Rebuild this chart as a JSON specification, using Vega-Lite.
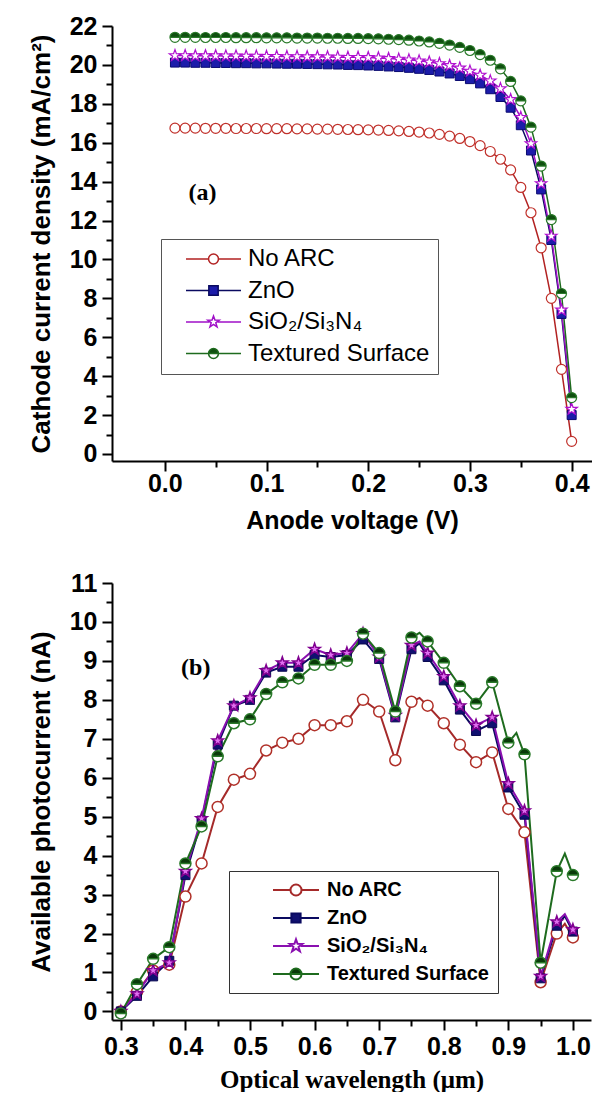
{
"$schema": "https://vega.github.io/schema/vega-lite/v6.json",
"background": "white",
"padding": {"left": 28, "top": 14, "right": 0, "bottom": 0},
"spacing": 38,
"datasets": {
"iv": [
{"series":"No ARC","x":0.01,"y":16.75},{"series":"No ARC","x":0.02,"y":16.75},{"series":"No ARC","x":0.03,"y":16.75},{"series":"No ARC","x":0.04,"y":16.74},{"series":"No ARC","x":0.05,"y":16.74},{"series":"No ARC","x":0.06,"y":16.74},{"series":"No ARC","x":0.07,"y":16.73},{"series":"No ARC","x":0.08,"y":16.73},{"series":"No ARC","x":0.09,"y":16.73},{"series":"No ARC","x":0.10,"y":16.72},
{"series":"No ARC","x":0.11,"y":16.72},{"series":"No ARC","x":0.12,"y":16.72},{"series":"No ARC","x":0.13,"y":16.71},{"series":"No ARC","x":0.14,"y":16.71},{"series":"No ARC","x":0.15,"y":16.7},{"series":"No ARC","x":0.16,"y":16.7},{"series":"No ARC","x":0.17,"y":16.69},{"series":"No ARC","x":0.18,"y":16.68},{"series":"No ARC","x":0.19,"y":16.67},{"series":"No ARC","x":0.20,"y":16.66},
{"series":"No ARC","x":0.21,"y":16.65},{"series":"No ARC","x":0.22,"y":16.63},{"series":"No ARC","x":0.23,"y":16.61},{"series":"No ARC","x":0.24,"y":16.58},{"series":"No ARC","x":0.25,"y":16.55},{"series":"No ARC","x":0.26,"y":16.5},{"series":"No ARC","x":0.27,"y":16.43},{"series":"No ARC","x":0.28,"y":16.34},{"series":"No ARC","x":0.29,"y":16.22},{"series":"No ARC","x":0.30,"y":16.06},
{"series":"No ARC","x":0.31,"y":15.85},{"series":"No ARC","x":0.32,"y":15.55},{"series":"No ARC","x":0.33,"y":15.15},{"series":"No ARC","x":0.34,"y":14.6},{"series":"No ARC","x":0.35,"y":13.7},{"series":"No ARC","x":0.36,"y":12.4},{"series":"No ARC","x":0.37,"y":10.6},{"series":"No ARC","x":0.38,"y":8.0},{"series":"No ARC","x":0.39,"y":4.35},{"series":"No ARC","x":0.40,"y":0.65},
{"series":"ZnO","x":0.01,"y":20.12},{"series":"ZnO","x":0.02,"y":20.12},{"series":"ZnO","x":0.03,"y":20.11},{"series":"ZnO","x":0.04,"y":20.11},{"series":"ZnO","x":0.05,"y":20.1},{"series":"ZnO","x":0.06,"y":20.1},{"series":"ZnO","x":0.07,"y":20.09},{"series":"ZnO","x":0.08,"y":20.09},{"series":"ZnO","x":0.09,"y":20.08},{"series":"ZnO","x":0.10,"y":20.08},
{"series":"ZnO","x":0.11,"y":20.07},{"series":"ZnO","x":0.12,"y":20.06},{"series":"ZnO","x":0.13,"y":20.06},{"series":"ZnO","x":0.14,"y":20.05},{"series":"ZnO","x":0.15,"y":20.04},{"series":"ZnO","x":0.16,"y":20.03},{"series":"ZnO","x":0.17,"y":20.02},{"series":"ZnO","x":0.18,"y":20.0},{"series":"ZnO","x":0.19,"y":19.99},{"series":"ZnO","x":0.20,"y":19.97},
{"series":"ZnO","x":0.21,"y":19.95},{"series":"ZnO","x":0.22,"y":19.92},{"series":"ZnO","x":0.23,"y":19.89},{"series":"ZnO","x":0.24,"y":19.85},{"series":"ZnO","x":0.25,"y":19.8},{"series":"ZnO","x":0.26,"y":19.74},{"series":"ZnO","x":0.27,"y":19.66},{"series":"ZnO","x":0.28,"y":19.56},{"series":"ZnO","x":0.29,"y":19.43},{"series":"ZnO","x":0.30,"y":19.27},
{"series":"ZnO","x":0.31,"y":19.05},{"series":"ZnO","x":0.32,"y":18.75},{"series":"ZnO","x":0.33,"y":18.35},{"series":"ZnO","x":0.34,"y":17.8},{"series":"ZnO","x":0.35,"y":16.9},{"series":"ZnO","x":0.36,"y":15.6},{"series":"ZnO","x":0.37,"y":13.6},{"series":"ZnO","x":0.38,"y":11.0},{"series":"ZnO","x":0.39,"y":7.2},{"series":"ZnO","x":0.40,"y":2.0},
{"series":"SiO₂/Si₃N₄","x":0.01,"y":20.48},{"series":"SiO₂/Si₃N₄","x":0.02,"y":20.48},{"series":"SiO₂/Si₃N₄","x":0.03,"y":20.47},{"series":"SiO₂/Si₃N₄","x":0.04,"y":20.47},{"series":"SiO₂/Si₃N₄","x":0.05,"y":20.47},{"series":"SiO₂/Si₃N₄","x":0.06,"y":20.46},{"series":"SiO₂/Si₃N₄","x":0.07,"y":20.46},{"series":"SiO₂/Si₃N₄","x":0.08,"y":20.45},{"series":"SiO₂/Si₃N₄","x":0.09,"y":20.45},{"series":"SiO₂/Si₃N₄","x":0.10,"y":20.44},
{"series":"SiO₂/Si₃N₄","x":0.11,"y":20.44},{"series":"SiO₂/Si₃N₄","x":0.12,"y":20.43},{"series":"SiO₂/Si₃N₄","x":0.13,"y":20.43},{"series":"SiO₂/Si₃N₄","x":0.14,"y":20.42},{"series":"SiO₂/Si₃N₄","x":0.15,"y":20.42},{"series":"SiO₂/Si₃N₄","x":0.16,"y":20.41},{"series":"SiO₂/Si₃N₄","x":0.17,"y":20.4},{"series":"SiO₂/Si₃N₄","x":0.18,"y":20.39},{"series":"SiO₂/Si₃N₄","x":0.19,"y":20.39},{"series":"SiO₂/Si₃N₄","x":0.20,"y":20.38},
{"series":"SiO₂/Si₃N₄","x":0.21,"y":20.36},{"series":"SiO₂/Si₃N₄","x":0.22,"y":20.33},{"series":"SiO₂/Si₃N₄","x":0.23,"y":20.3},{"series":"SiO₂/Si₃N₄","x":0.24,"y":20.26},{"series":"SiO₂/Si₃N₄","x":0.25,"y":20.21},{"series":"SiO₂/Si₃N₄","x":0.26,"y":20.15},{"series":"SiO₂/Si₃N₄","x":0.27,"y":20.07},{"series":"SiO₂/Si₃N₄","x":0.28,"y":19.97},{"series":"SiO₂/Si₃N₄","x":0.29,"y":19.84},{"series":"SiO₂/Si₃N₄","x":0.30,"y":19.68},
{"series":"SiO₂/Si₃N₄","x":0.31,"y":19.47},{"series":"SiO₂/Si₃N₄","x":0.32,"y":19.18},{"series":"SiO₂/Si₃N₄","x":0.33,"y":18.78},{"series":"SiO₂/Si₃N₄","x":0.34,"y":18.22},{"series":"SiO₂/Si₃N₄","x":0.35,"y":17.3},{"series":"SiO₂/Si₃N₄","x":0.36,"y":15.95},{"series":"SiO₂/Si₃N₄","x":0.37,"y":13.9},{"series":"SiO₂/Si₃N₄","x":0.38,"y":11.2},{"series":"SiO₂/Si₃N₄","x":0.39,"y":7.4},{"series":"SiO₂/Si₃N₄","x":0.40,"y":2.3},
{"series":"Textured Surface","x":0.01,"y":21.42},{"series":"Textured Surface","x":0.02,"y":21.42},{"series":"Textured Surface","x":0.03,"y":21.42},{"series":"Textured Surface","x":0.04,"y":21.41},{"series":"Textured Surface","x":0.05,"y":21.41},{"series":"Textured Surface","x":0.06,"y":21.41},{"series":"Textured Surface","x":0.07,"y":21.4},{"series":"Textured Surface","x":0.08,"y":21.4},{"series":"Textured Surface","x":0.09,"y":21.4},{"series":"Textured Surface","x":0.10,"y":21.39},
{"series":"Textured Surface","x":0.11,"y":21.39},{"series":"Textured Surface","x":0.12,"y":21.39},{"series":"Textured Surface","x":0.13,"y":21.38},{"series":"Textured Surface","x":0.14,"y":21.38},{"series":"Textured Surface","x":0.15,"y":21.38},{"series":"Textured Surface","x":0.16,"y":21.37},{"series":"Textured Surface","x":0.17,"y":21.37},{"series":"Textured Surface","x":0.18,"y":21.36},{"series":"Textured Surface","x":0.19,"y":21.36},{"series":"Textured Surface","x":0.20,"y":21.35},
{"series":"Textured Surface","x":0.21,"y":21.34},{"series":"Textured Surface","x":0.22,"y":21.32},{"series":"Textured Surface","x":0.23,"y":21.3},{"series":"Textured Surface","x":0.24,"y":21.27},{"series":"Textured Surface","x":0.25,"y":21.23},{"series":"Textured Surface","x":0.26,"y":21.18},{"series":"Textured Surface","x":0.27,"y":21.11},{"series":"Textured Surface","x":0.28,"y":21.02},{"series":"Textured Surface","x":0.29,"y":20.9},{"series":"Textured Surface","x":0.30,"y":20.74},
{"series":"Textured Surface","x":0.31,"y":20.53},{"series":"Textured Surface","x":0.32,"y":20.24},{"series":"Textured Surface","x":0.33,"y":19.8},{"series":"Textured Surface","x":0.34,"y":19.15},{"series":"Textured Surface","x":0.35,"y":18.15},{"series":"Textured Surface","x":0.36,"y":16.8},{"series":"Textured Surface","x":0.37,"y":14.8},{"series":"Textured Surface","x":0.38,"y":12.05},{"series":"Textured Surface","x":0.39,"y":8.25},{"series":"Textured Surface","x":0.40,"y":2.9}
],
"pc": [
{"series":"No ARC","x":0.3,"y":0.0},{"series":"No ARC","x":0.325,"y":0.5},{"series":"No ARC","x":0.35,"y":1.05},{"series":"No ARC","x":0.375,"y":1.2},{"series":"No ARC","x":0.4,"y":2.95},{"series":"No ARC","x":0.425,"y":3.8},{"series":"No ARC","x":0.45,"y":5.25},{"series":"No ARC","x":0.475,"y":5.95},{"series":"No ARC","x":0.5,"y":6.1},{"series":"No ARC","x":0.525,"y":6.7},{"series":"No ARC","x":0.55,"y":6.9},{"series":"No ARC","x":0.575,"y":7.0},{"series":"No ARC","x":0.6,"y":7.35},{"series":"No ARC","x":0.625,"y":7.35},{"series":"No ARC","x":0.65,"y":7.45},{"series":"No ARC","x":0.675,"y":8.0},{"series":"No ARC","x":0.7,"y":7.7},{"series":"No ARC","x":0.725,"y":6.45},{"series":"No ARC","x":0.75,"y":7.95},{"series":"No ARC","x":0.7625,"y":8.05},{"series":"No ARC","x":0.775,"y":7.85},{"series":"No ARC","x":0.8,"y":7.4},{"series":"No ARC","x":0.825,"y":6.85},{"series":"No ARC","x":0.85,"y":6.4},{"series":"No ARC","x":0.875,"y":6.65},{"series":"No ARC","x":0.9,"y":5.2},{"series":"No ARC","x":0.925,"y":4.6},{"series":"No ARC","x":0.95,"y":0.75},{"series":"No ARC","x":0.975,"y":2.0},{"series":"No ARC","x":0.9875,"y":2.25},{"series":"No ARC","x":1.0,"y":1.9},
{"series":"ZnO","x":0.3,"y":0.0},{"series":"ZnO","x":0.325,"y":0.4},{"series":"ZnO","x":0.35,"y":0.9},{"series":"ZnO","x":0.375,"y":1.3},{"series":"ZnO","x":0.4,"y":3.5},{"series":"ZnO","x":0.425,"y":4.9},{"series":"ZnO","x":0.45,"y":6.85},{"series":"ZnO","x":0.475,"y":7.85},{"series":"ZnO","x":0.5,"y":8.0},{"series":"ZnO","x":0.525,"y":8.7},{"series":"ZnO","x":0.55,"y":8.85},{"series":"ZnO","x":0.575,"y":8.85},{"series":"ZnO","x":0.6,"y":9.15},{"series":"ZnO","x":0.625,"y":9.1},{"series":"ZnO","x":0.65,"y":9.15},{"series":"ZnO","x":0.675,"y":9.55},{"series":"ZnO","x":0.7,"y":9.05},{"series":"ZnO","x":0.725,"y":7.55},{"series":"ZnO","x":0.75,"y":9.3},{"series":"ZnO","x":0.7625,"y":9.45},{"series":"ZnO","x":0.775,"y":9.1},{"series":"ZnO","x":0.8,"y":8.5},{"series":"ZnO","x":0.825,"y":7.75},{"series":"ZnO","x":0.85,"y":7.2},{"series":"ZnO","x":0.875,"y":7.4},{"series":"ZnO","x":0.9,"y":5.75},{"series":"ZnO","x":0.925,"y":5.05},{"series":"ZnO","x":0.95,"y":0.85},{"series":"ZnO","x":0.975,"y":2.2},{"series":"ZnO","x":0.9875,"y":2.45},{"series":"ZnO","x":1.0,"y":2.05},
{"series":"SiO₂/Si₃N₄","x":0.3,"y":0.0},{"series":"SiO₂/Si₃N₄","x":0.325,"y":0.45},{"series":"SiO₂/Si₃N₄","x":0.35,"y":1.05},{"series":"SiO₂/Si₃N₄","x":0.375,"y":1.25},{"series":"SiO₂/Si₃N₄","x":0.4,"y":3.6},{"series":"SiO₂/Si₃N₄","x":0.425,"y":4.95},{"series":"SiO₂/Si₃N₄","x":0.45,"y":6.95},{"series":"SiO₂/Si₃N₄","x":0.475,"y":7.85},{"series":"SiO₂/Si₃N₄","x":0.5,"y":8.05},{"series":"SiO₂/Si₃N₄","x":0.525,"y":8.75},{"series":"SiO₂/Si₃N₄","x":0.55,"y":8.95},{"series":"SiO₂/Si₃N₄","x":0.575,"y":8.95},{"series":"SiO₂/Si₃N₄","x":0.6,"y":9.3},{"series":"SiO₂/Si₃N₄","x":0.625,"y":9.15},{"series":"SiO₂/Si₃N₄","x":0.65,"y":9.2},{"series":"SiO₂/Si₃N₄","x":0.675,"y":9.7},{"series":"SiO₂/Si₃N₄","x":0.7,"y":9.1},{"series":"SiO₂/Si₃N₄","x":0.725,"y":7.6},{"series":"SiO₂/Si₃N₄","x":0.75,"y":9.4},{"series":"SiO₂/Si₃N₄","x":0.7625,"y":9.5},{"series":"SiO₂/Si₃N₄","x":0.775,"y":9.2},{"series":"SiO₂/Si₃N₄","x":0.8,"y":8.6},{"series":"SiO₂/Si₃N₄","x":0.825,"y":7.85},{"series":"SiO₂/Si₃N₄","x":0.85,"y":7.35},{"series":"SiO₂/Si₃N₄","x":0.875,"y":7.55},{"series":"SiO₂/Si₃N₄","x":0.9,"y":5.85},{"series":"SiO₂/Si₃N₄","x":0.925,"y":5.15},{"series":"SiO₂/Si₃N₄","x":0.95,"y":0.9},{"series":"SiO₂/Si₃N₄","x":0.975,"y":2.3},{"series":"SiO₂/Si₃N₄","x":0.9875,"y":2.5},{"series":"SiO₂/Si₃N₄","x":1.0,"y":2.1},
{"series":"Textured Surface","x":0.3,"y":-0.05},{"series":"Textured Surface","x":0.325,"y":0.7},{"series":"Textured Surface","x":0.35,"y":1.35},{"series":"Textured Surface","x":0.375,"y":1.65},{"series":"Textured Surface","x":0.4,"y":3.8},{"series":"Textured Surface","x":0.425,"y":4.75},{"series":"Textured Surface","x":0.45,"y":6.55},{"series":"Textured Surface","x":0.475,"y":7.4},{"series":"Textured Surface","x":0.5,"y":7.5},{"series":"Textured Surface","x":0.525,"y":8.15},{"series":"Textured Surface","x":0.55,"y":8.45},{"series":"Textured Surface","x":0.575,"y":8.55},{"series":"Textured Surface","x":0.6,"y":8.9},{"series":"Textured Surface","x":0.625,"y":8.9},{"series":"Textured Surface","x":0.65,"y":9.0},{"series":"Textured Surface","x":0.675,"y":9.7},{"series":"Textured Surface","x":0.7,"y":9.2},{"series":"Textured Surface","x":0.725,"y":7.7},{"series":"Textured Surface","x":0.75,"y":9.6},{"series":"Textured Surface","x":0.7625,"y":9.72},{"series":"Textured Surface","x":0.775,"y":9.5},{"series":"Textured Surface","x":0.8,"y":8.95},{"series":"Textured Surface","x":0.825,"y":8.35},{"series":"Textured Surface","x":0.85,"y":7.9},{"series":"Textured Surface","x":0.875,"y":8.45},{"series":"Textured Surface","x":0.9,"y":6.9},{"series":"Textured Surface","x":0.9125,"y":7.15},{"series":"Textured Surface","x":0.925,"y":6.6},{"series":"Textured Surface","x":0.95,"y":1.25},{"series":"Textured Surface","x":0.975,"y":3.6},{"series":"Textured Surface","x":0.9875,"y":4.05},{"series":"Textured Surface","x":1.0,"y":3.5}
]
},
"vconcat": [
{"hconcat": [
{
"width": 480, "height": 435,
"data": {"name": "iv"},
"encoding": {
 "x": {"field": "x", "type": "quantitative", "scale": {"domain": [-0.0519, 0.42], "nice": false, "zero": false},
  "axis": {"title": "Anode voltage (V)", "values": [0,0.05,0.1,0.15,0.2,0.25,0.3,0.35,0.4],
   "labelExpr": "abs(datum.value*10-round(datum.value*10))<0.000001 ? format(datum.value,'.1f') : ''",
   "tickSize": {"condition": {"test": "abs(datum.value*10-round(datum.value*10))<0.000001", "value": 10}, "value": 6},
   "labelPadding": 0, "titlePadding": 12}},
 "y": {"field": "y", "type": "quantitative", "scale": {"domain": [-0.36, 22], "nice": false, "zero": false},
  "axis": {"title": "Cathode current density (mA/cm²)", "titleFontSize": 26, "values": [0,1,2,3,4,5,6,7,8,9,10,11,12,13,14,15,16,17,18,19,20,21,22],
   "labelExpr": "datum.value % 2 === 0 ? format(datum.value,'d') : ''",
   "tickSize": {"condition": {"test": "datum.value % 2 === 0", "value": 10}, "value": 6},
   "labelPadding": 5, "titlePadding": 15}}
},
"layer": [
 {"mark": {"type": "line", "strokeWidth": 1.5},
  "encoding": {"color": {"field": "series", "type": "nominal", "scale": {"domain": ["No ARC","ZnO","SiO₂/Si₃N₄","Textured Surface"], "range": ["#b22222","#0a0a60","#a010c8","#1e6b1e"]},
   "legend": {"title": null, "orient": "none", "legendX": 49, "legendY": 213, "padding": 8, "strokeColor": "#555", "fillColor": "white", "symbolType": "stroke", "symbolSize": 3025, "symbolStrokeWidth": 1.5, "symbolOffset": 16, "labelOffset": 6, "clipHeight": 24, "labelFont": "Liberation Sans", "labelFontSize": 24, "labelColor": "black", "rowPadding": 7.5, "labelLimit": 400,
    "encoding": {"symbols": {
      "shape": {"condition": [{"test": "datum.value === 'No ARC'", "value": "M-1,0H-0.18M0.18,0H1M0.18,0A0.18,0.18,0,1,1,-0.18,0A0.18,0.18,0,1,1,0.18,0Z"}, {"test": "datum.value === 'ZnO'", "value": "M-1,0H-0.17M0.17,0H1M-0.17,-0.17H0.17V0.17H-0.17Z"}, {"test": "datum.value === 'SiO₂/Si₃N₄'", "value": "M-1,0H-0.15M0.15,0H1M0,-0.22L0.0517,-0.0713L0.2092,-0.068L0.0836,0.0273L0.1294,0.178L0,0.088L-0.1294,0.178L-0.0836,0.0273L-0.2092,-0.068L-0.0517,-0.0713Z"}], "value": "M-1,0H-0.18M0.18,0H1M-0.18,0A0.18,0.18,0,1,1,0.18,0A0.18,0.18,0,1,1,-0.18,0ZM-0.18,0A0.18,0.18,0,0,0,0.18,0Z"},
      "fill": {"condition": [{"test": "datum.value === 'ZnO'", "value": "#1c1caa"}, {"test": "datum.value === 'Textured Surface'", "value": "#0f4f0f"}], "value": "white"}}}}}}},
 {"transform": [{"filter": "datum.series === 'No ARC' && datum.x === 0.04"}],
  "mark": {"type": "text", "text": "(a)", "font": "Liberation Serif", "fontSize": 24, "fontWeight": "bold", "align": "center", "baseline": "middle", "fill": "black"},
  "encoding": {"x": {"datum": 0.037}, "y": {"datum": 13.4}}},
 {"transform": [{"filter": "datum.series === 'No ARC'"}],
  "mark": {"type": "point", "shape": "circle", "filled": true, "fill": "white", "stroke": "#c0302a", "strokeWidth": 1.2, "size": 100, "opacity": 1}},
 {"transform": [{"filter": "datum.series === 'ZnO'"}],
  "mark": {"type": "point", "shape": "square", "filled": true, "fill": "#1c1caa", "stroke": "#0a0a70", "strokeWidth": 1, "size": 81, "opacity": 1}},
 {"transform": [{"filter": "datum.series === 'SiO₂/Si₃N₄'"}],
  "mark": {"type": "point", "shape": "M0,-1L0.235,-0.324L0.951,-0.309L0.38,0.124L0.588,0.809L0,0.4L-0.588,0.809L-0.38,0.124L-0.951,-0.309L-0.235,-0.324Z", "filled": true, "fill": "white", "stroke": "#b010d0", "strokeWidth": 1.2, "size": 144, "opacity": 1}},
 {"transform": [{"filter": "datum.series === 'Textured Surface'"}],
  "mark": {"type": "point", "shape": "circle", "filled": true, "fill": "white", "strokeWidth": 0, "size": 100, "opacity": 1}},
 {"transform": [{"filter": "datum.series === 'Textured Surface'"}],
  "mark": {"type": "point", "shape": "M-1,0A1,1,0,1,1,1,0A1,1,0,1,1,-1,0ZM-1,0A1,1,0,0,0,1,0Z", "filled": true, "fill": "#0f4f0f", "stroke": "#2a7a2a", "strokeWidth": 1.2, "size": 100, "opacity": 1}}
]
}
]},
{"hconcat": [
{
"width": 479, "height": 437,
"data": {"name": "pc"},
"encoding": {
 "x": {"field": "x", "type": "quantitative", "scale": {"domain": [0.2863, 1.028], "nice": false, "zero": false},
  "axis": {"title": "Optical wavelength (μm)", "titleFont": "Liberation Serif", "titleFontSize": 25, "values": [0.3,0.35,0.4,0.45,0.5,0.55,0.6,0.65,0.7,0.75,0.8,0.85,0.9,0.95,1.0],
   "labelExpr": "abs(datum.value*10-round(datum.value*10))<0.000001 ? format(datum.value,'.1f') : ''",
   "tickSize": {"condition": {"test": "abs(datum.value*10-round(datum.value*10))<0.000001", "value": 10}, "value": 6},
   "labelPadding": 4, "titlePadding": 8}},
 "y": {"field": "y", "type": "quantitative", "scale": {"domain": [-0.22, 11], "nice": false, "zero": false},
  "axis": {"title": "Available photocurrent (nA)", "titleFontSize": 26, "values": [0,0.5,1,1.5,2,2.5,3,3.5,4,4.5,5,5.5,6,6.5,7,7.5,8,8.5,9,9.5,10,10.5,11],
   "labelExpr": "datum.value % 1 === 0 ? format(datum.value,'d') : ''",
   "tickSize": {"condition": {"test": "datum.value % 1 === 0", "value": 10}, "value": 6},
   "labelPadding": 5, "titlePadding": 15}}
},
"layer": [
 {"mark": {"type": "line", "strokeWidth": 2},
  "encoding": {"color": {"field": "series", "type": "nominal", "scale": {"domain": ["No ARC","ZnO","SiO₂/Si₃N₄","Textured Surface"], "range": ["#a52a2a","#0a0a60","#8a10b0","#1e6b1e"]},
   "legend": {"title": null, "orient": "none", "legendX": 117, "legendY": 288, "padding": 9, "strokeColor": "#333", "fillColor": "white", "symbolType": "stroke", "symbolSize": 2116, "symbolStrokeWidth": 2, "symbolOffset": 34, "labelOffset": 7, "clipHeight": 20, "labelFont": "Liberation Sans", "labelFontSize": 20, "labelFontWeight": "bold", "labelColor": "black", "rowPadding": 8, "labelLimit": 400,
    "encoding": {"symbols": {
      "shape": {"condition": [{"test": "datum.value === 'No ARC'", "value": "M-1,0H-0.24M0.24,0H1M0.24,0A0.24,0.24,0,1,1,-0.24,0A0.24,0.24,0,1,1,0.24,0Z"}, {"test": "datum.value === 'ZnO'", "value": "M-1,0H-0.2M0.2,0H1M-0.2,-0.2H0.2V0.2H-0.2Z"}, {"test": "datum.value === 'SiO₂/Si₃N₄'", "value": "M-1,0H-0.2M0.2,0H1M0,-0.29L0.0682,-0.094L0.2758,-0.0896L0.1102,0.036L0.1705,0.2346L0,0.116L-0.1705,0.2346L-0.1102,0.036L-0.2758,-0.0896L-0.0682,-0.094Z"}], "value": "M-1,0H-0.24M0.24,0H1M-0.24,0A0.24,0.24,0,1,1,0.24,0A0.24,0.24,0,1,1,-0.24,0ZM-0.24,0A0.24,0.24,0,0,0,0.24,0Z"},
      "fill": {"condition": [{"test": "datum.value === 'ZnO'", "value": "#101070"}, {"test": "datum.value === 'Textured Surface'", "value": "#0a3a0a"}], "value": "white"}}}}}}},
 {"transform": [{"filter": "datum.series === 'No ARC' && datum.x === 0.5"}],
  "mark": {"type": "text", "text": "(b)", "font": "Liberation Serif", "fontSize": 24, "fontWeight": "bold", "align": "center", "baseline": "middle", "fill": "black"},
  "encoding": {"x": {"datum": 0.416}, "y": {"datum": 8.83}}},
 {"transform": [{"filter": "datum.series === 'No ARC'"}, {"filter": "abs(datum.x*40-round(datum.x*40))<0.01"}],
  "mark": {"type": "point", "shape": "circle", "filled": true, "fill": "white", "stroke": "#b03028", "strokeWidth": 1.5, "size": 121, "opacity": 1}},
 {"transform": [{"filter": "datum.series === 'ZnO'"}, {"filter": "abs(datum.x*40-round(datum.x*40))<0.01"}],
  "mark": {"type": "point", "shape": "square", "filled": true, "fill": "#101070", "stroke": "#0a0a50", "strokeWidth": 1, "size": 81, "opacity": 1}},
 {"transform": [{"filter": "datum.series === 'SiO₂/Si₃N₄'"}, {"filter": "abs(datum.x*40-round(datum.x*40))<0.01"}],
  "mark": {"type": "point", "shape": "M0,-1L0.235,-0.324L0.951,-0.309L0.38,0.124L0.588,0.809L0,0.4L-0.588,0.809L-0.38,0.124L-0.951,-0.309L-0.235,-0.324Z", "filled": true, "fill": "#e070f0", "stroke": "#800090", "strokeWidth": 1.5, "size": 144, "opacity": 1}},
 {"transform": [{"filter": "datum.series === 'Textured Surface'"}, {"filter": "abs(datum.x*40-round(datum.x*40))<0.01"}],
  "mark": {"type": "point", "shape": "circle", "filled": true, "fill": "white", "strokeWidth": 0, "size": 121, "opacity": 1}},
 {"transform": [{"filter": "datum.series === 'Textured Surface'"}, {"filter": "abs(datum.x*40-round(datum.x*40))<0.01"}],
  "mark": {"type": "point", "shape": "M-1,0A1,1,0,1,1,1,0A1,1,0,1,1,-1,0ZM-1,0A1,1,0,0,0,1,0Z", "filled": true, "fill": "#0a3a0a", "stroke": "#2a7a2a", "strokeWidth": 1.5, "size": 121, "opacity": 1}}
]
}
]}
],
"resolve": {"scale": {"x": "independent", "y": "independent", "color": "independent"}},
"config": {
 "view": {"stroke": null},
 "axis": {"domainColor": "black", "domainWidth": 2, "tickColor": "black", "tickWidth": 2, "labelColor": "black", "titleColor": "black",
  "labelFont": "Liberation Sans", "labelFontSize": 25, "labelFontWeight": "bold",
  "titleFont": "Liberation Sans", "titleFontSize": 25, "titleFontWeight": "bold",
  "grid": false, "labelFlush": false, "labelOverlap": false}
}
}
